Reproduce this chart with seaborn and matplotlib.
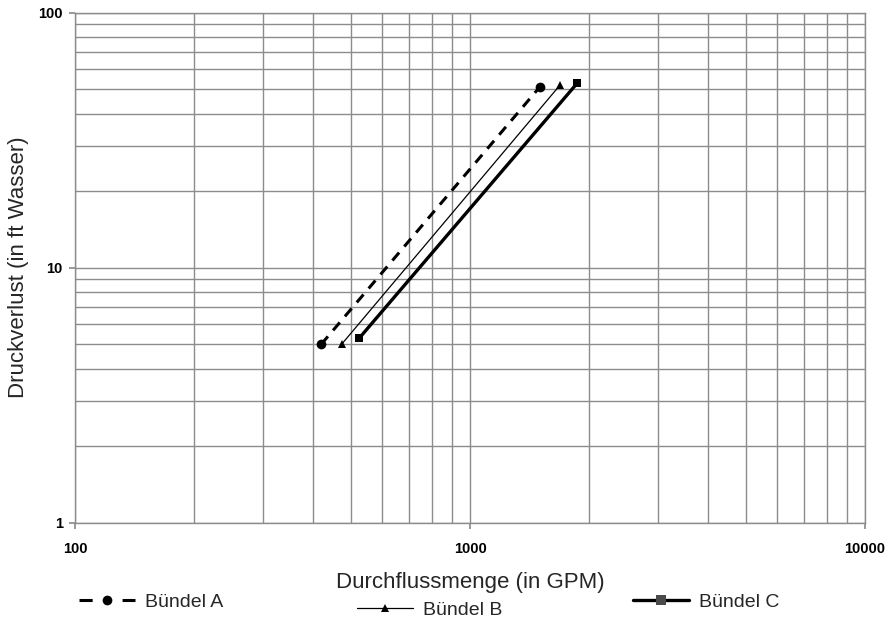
import numpy as np
import pandas as pd
import matplotlib
matplotlib.use("Agg")
import matplotlib.pyplot as plt
import seaborn as sns
from matplotlib.lines import Line2D
from matplotlib.ticker import LogLocator, FixedLocator, NullFormatter

# Pressure drop vs. flow rate for three tube bundles
bundle_a_gpm = [420, 1500]
bundle_a_ft = [5.0, 51.0]
bundle_b_gpm = [473, 1690]
bundle_b_ft = [5.0, 52.0]
bundle_c_gpm = [525, 1870]
bundle_c_ft = [5.3, 53.0]
series_names = ["Bündel A", "Bündel B", "Bündel C"]
x_ticks = [100, 1000, 10000]
y_ticks = [1, 10, 100]

df = pd.DataFrame({
    "gpm": bundle_a_gpm + bundle_b_gpm + bundle_c_gpm,
    "ft": bundle_a_ft + bundle_b_ft + bundle_c_ft,
    "Bündel": [series_names[0]] * 2 + [series_names[1]] * 2 + [series_names[2]] * 2,
})

sns.set_theme(style="white")
plt.rcParams["font.family"] = ["Liberation Sans", "DejaVu Sans"]

W, H = 888, 620
fig = plt.figure(figsize=(W / 100, H / 100), dpi=100)
ax = fig.add_axes([75 / W, 1 - 522.5 / H, 790 / W, 509.8 / H])

styles = {
    series_names[0]: dict(marker="o", markersize=7, linewidth=2.2, dashes=(3.4, 2.6)),
    series_names[1]: dict(marker="^", markersize=6, linewidth=0.9),
    series_names[2]: dict(marker="s", markersize=6, linewidth=2.4),
}
for name in series_names:
    sub = df[df["Bündel"] == name]
    kw = styles[name]
    sns.lineplot(data=sub, x="gpm", y="ft", ax=ax, color="black",
                 sort=False, estimator=None, markeredgewidth=0, **kw)

ax.set_xscale("log")
ax.set_yscale("log")
ax.set_xlim(100, 10000)
ax.set_ylim(1, 100)

ax.xaxis.set_major_locator(FixedLocator(x_ticks))
ax.yaxis.set_major_locator(FixedLocator(y_ticks))
ax.xaxis.set_minor_locator(LogLocator(base=10, subs=np.arange(2, 10)))
ax.yaxis.set_minor_locator(LogLocator(base=10, subs=np.arange(2, 10)))
ax.xaxis.set_minor_formatter(NullFormatter())
ax.yaxis.set_minor_formatter(NullFormatter())
ax.set_xticklabels([str(v) for v in x_ticks], fontweight="bold", fontsize=10.5)
ax.set_yticklabels([str(v) for v in y_ticks], fontweight="bold", fontsize=10.5)

ax.grid(True, which="both", color="#8c8c8c", linewidth=1.0)
ax.set_axisbelow(True)
for s in ax.spines.values():
    s.set_color("#8c8c8c")
    s.set_linewidth(1.0)

ax.tick_params(axis="both", which="major", length=4.3, color="#8c8c8c",
               direction="out", labelcolor="black")
ax.tick_params(axis="x", which="major", pad=10)
ax.tick_params(axis="y", which="major", pad=4.5)
ax.tick_params(axis="both", which="minor", length=0)
ax.xaxis.set_tick_params(bottom=True)
ax.yaxis.set_tick_params(left=True)

ax.set_xlabel("Durchflussmenge (in GPM)", fontsize=16, labelpad=11)
ax.set_ylabel("Druckverlust (in ft Wasser)", fontsize=16, labelpad=7)

# legend keys: same styling as the lines, with a dash-marker-dash key for A
legend_keys = [
    Line2D([], [], color="black", marker="o", markersize=7, linewidth=2.2,
           dashes=(4.3, 9.8), markeredgewidth=0),
    Line2D([], [], color="black", marker="^", markersize=6, linewidth=0.9,
           markeredgewidth=0),
    Line2D([], [], color="black", marker="s", markersize=6.5, linewidth=2.4,
           markerfacecolor="#4a4a4a", markeredgewidth=0),
]

# one legend entry per series along the bottom edge
legend_spots = [(79, 602), (357, 610), (633, 602)]
for h, name, (lx, ly) in zip(legend_keys, series_names, legend_spots):
    fig.legend([h], [name], loc="center left",
               bbox_to_anchor=(lx / W, 1 - ly / H),
               frameon=False, fontsize=14, handlelength=2.9,
               handletextpad=0.5, borderpad=0, borderaxespad=0)

fig.savefig("out.png", dpi=100)
